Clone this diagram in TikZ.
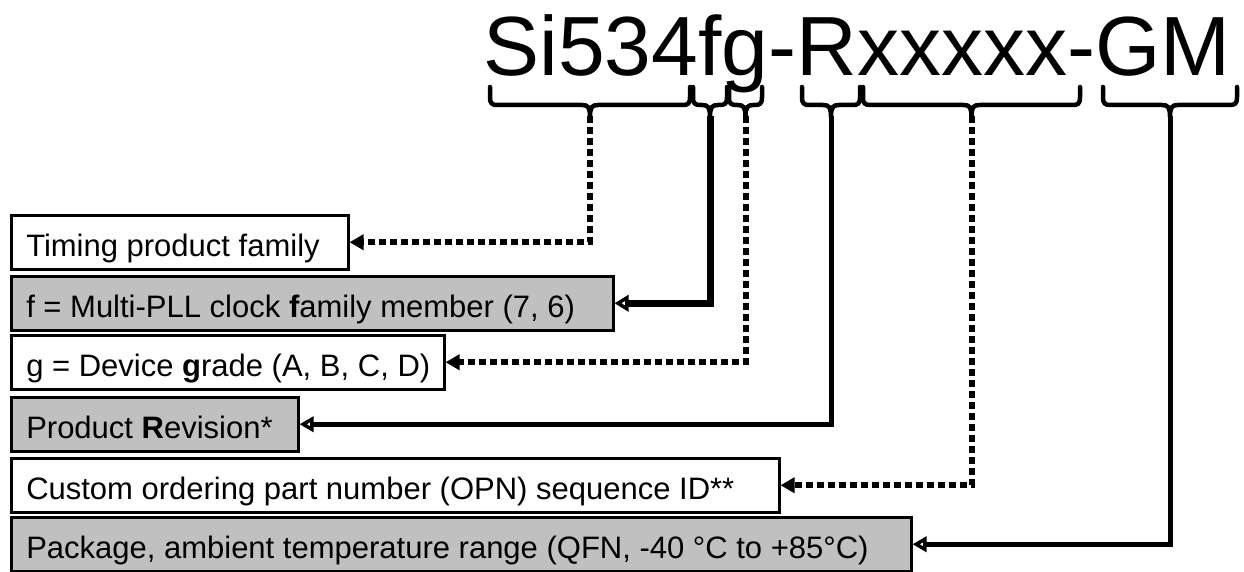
\documentclass[tikz,border=0pt]{standalone}
\usepackage{fontspec}
\setmainfont{Liberation Sans}
\usetikzlibrary{arrows.meta}
\definecolor{boxgray}{RGB}{192,192,192}
\begin{document}
\begin{tikzpicture}[x=1pt,y=-1pt,
  boxw/.style={draw=black, line width=2.5pt, fill=white, anchor=north west,
    minimum height=54pt, inner xsep=15pt, inner ysep=0pt,
    text height=28pt, text depth=0pt, font=\fontsize{31}{36}\selectfont},
  boxg/.style={boxw, fill=boxgray},
  bracepath/.style={line width=4.5pt, line join=round, line cap=round},
  dotconn/.style={line width=6pt, dash pattern=on 7pt off 4pt,
    -{Triangle[length=14pt,width=15pt]}},
  solconn/.style={line width=5pt, -{Triangle[length=14pt,width=15pt,fill=white]}},
  fconn/.style={line width=7pt, -{Triangle[length=14pt,width=16pt,fill=white]}},
]
\fill[white] (0,0) rectangle (1244,572);
\useasboundingbox (0,0) rectangle (1244,572);

\node[font=\fontsize{84}{90}\selectfont, anchor=base, inner sep=0pt] (title) at (857,76) {Si534fg-Rxxxxx-GM};

\foreach \a/\b/\n in {490/690/1, 693/727/2, 729/762/3, 802/860/4, 863/1080/5, 1103/1237/6} {
  \pgfmathsetmacro\m{(\a+\b)/2}
  \draw[bracepath] (\a,87) -- (\a,97) .. controls (\a,104) and ({\a+2},105) .. ({\a+8},105)
    -- ({\m-8},105) .. controls ({\m-2},105) and (\m,107) .. (\m,117)
    .. controls (\m,107) and ({\m+2},105) .. ({\m+8},105)
    -- ({\b-8},105) .. controls ({\b-2},105) and (\b,104) .. (\b,97) -- (\b,87);
  \coordinate (t\n) at (\m,116);
}

\node[boxw, minimum width=337pt] (b1) at (10,214) {\makebox[307pt][l]{Timing product family}};
\node[boxg, minimum width=602pt] (b2) at (10,275) {\makebox[572pt][l]{f = Multi-PLL clock \textbf{f}amily member (7, 6)}};
\node[boxw, minimum width=433pt] (b3) at (10,334) {\makebox[403pt][l]{g = Device \textbf{g}rade (A, B, C, D)}};
\node[boxg, minimum width=287pt] (b4) at (10,396) {\makebox[257pt][l]{Product \textbf{R}evision*}};
\node[boxw, minimum width=768pt] (b5) at (10,457) {\makebox[738pt][l]{Custom ordering part number (OPN) sequence ID**}};
\node[boxg, minimum width=900pt] (b6) at (10,516) {\makebox[870pt][l]{Package, ambient temperature range (QFN, -40 °C to +85°C)}};

\draw[dotconn] (t1) |- (b1.east);
\draw[fconn] (t2) |- (b2.east);
\draw[dotconn] (t3) |- (b3.east);
\draw[solconn] (t4) |- (b4.east);
\draw[dotconn] (t5) |- (b5.east);
\draw[solconn] (t6) |- (b6.east);
\end{tikzpicture}
\end{document}
